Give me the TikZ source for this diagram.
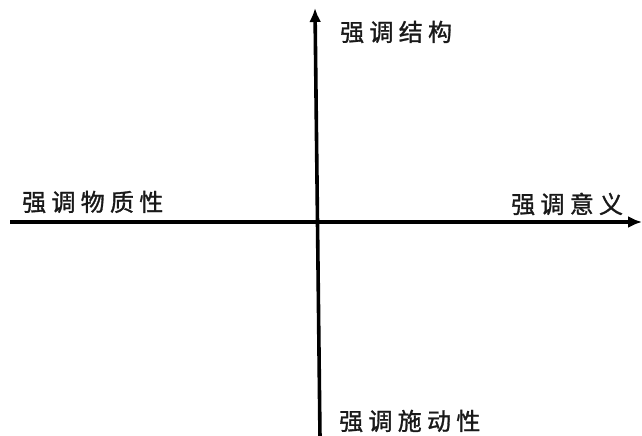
\documentclass[tikz,border=0pt]{standalone}
\usepackage{fontspec}
\newfontfamily\cjk[LetterSpace=22,FakeBold=1.2]{Noto Sans CJK SC}
\usetikzlibrary{arrows.meta}

\tikzset{
  axis/.style={line width=3.6pt,-{Latex[length=14pt,width=12pt]}},
  label/.style={inner sep=0pt,anchor=west,font=\cjk\fontsize{24pt}{24pt}\selectfont,text=black!90}
}

\begin{document}
\begin{tikzpicture}[x=1pt,y=-1pt]
\useasboundingbox (0,0) rectangle (642,436);

% ---------------- AXES ----------------

\coordinate (W) at (10,222);
\coordinate (E) at (642,222);
\coordinate (S) at (320,438);
\coordinate (N) at (315,8);

\draw[axis] (W)--(E);
\draw[axis] (S)--(N);

% ---------------- LABELS ----------------

\node[label] (top) at (340,32) {强调结构};
\node[label] (left) at (22,202) {强调物质性};
\node[label] (right) at (511,204) {强调意义};
\node[label] (bottom) at (339,421) {强调施动性};

\end{tikzpicture}
\end{document}
